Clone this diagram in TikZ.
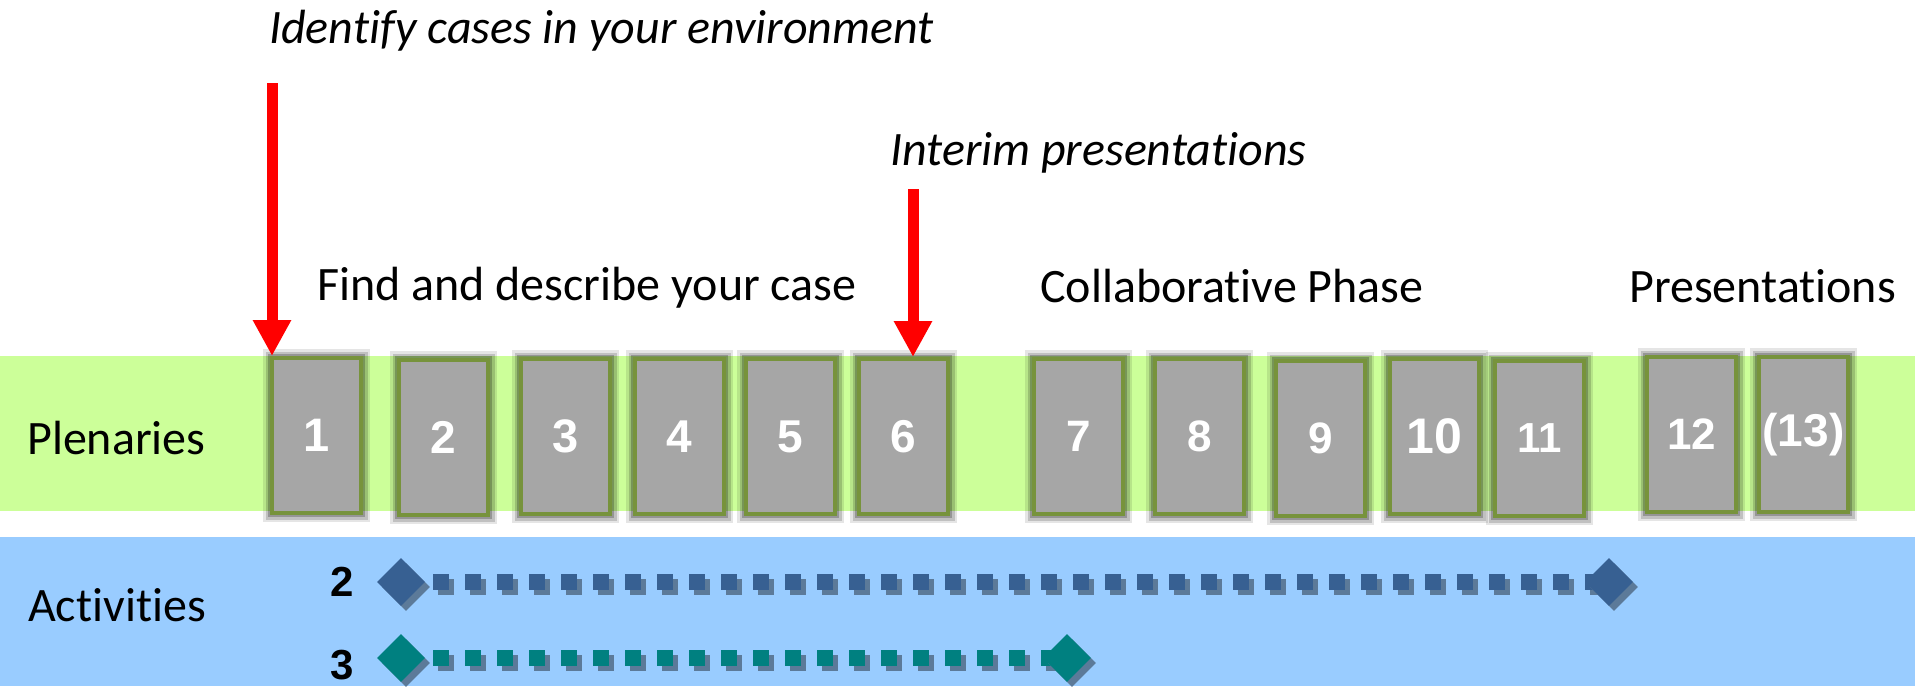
\documentclass[tikz,border=0pt]{standalone}
\usepackage{fontspec}
\setmainfont{Carlito}[Ligatures=NoCommon]
\newfontfamily\arialfont{Liberation Sans}
\usetikzlibrary{arrows.meta,shapes.geometric,calc}
\definecolor{bandgreen}{HTML}{CCFF99}
\definecolor{bandblue}{HTML}{99CCFF}
\definecolor{boxgray}{HTML}{A6A6A6}
\definecolor{boxborder}{HTML}{77933C}
\definecolor{actblue}{HTML}{376092}
\definecolor{actteal}{HTML}{008080}
\definecolor{actshadow}{HTML}{5C7A99}
\newcommand\numfs[1]{\arialfont\bfseries\fontsize{#1}{#1}\selectfont}
\pgfdeclarelayer{bg}
\pgfdeclarelayer{mid}
\pgfsetlayers{bg,mid,main}
\tikzset{
  lbl/.style={font=\fontsize{48}{58}\selectfont, inner sep=0, anchor=base west},
  ilbl/.style={font=\fontsize{48}{58}\selectfont\itshape, inner sep=0, anchor=base west},
  sess/.style={draw=boxborder, line width=4, fill=boxgray, minimum width=89,
    minimum height=155, inner sep=0, anchor=north west, text=white,
    preaction={draw=black, draw opacity=0.10, line width=18, rounded corners=6},
    preaction={draw=black, draw opacity=0.16, line width=13, rounded corners=4},
    preaction={draw=black, draw opacity=0.22, line width=8, rounded corners=2}},
  redarrow/.style={draw=red, line width=11, -{Triangle[width=36pt,length=36pt]}},
  actdiam/.style={diamond, minimum width=48, minimum height=48, inner sep=0},
  actline/.style={line width=16, dash pattern=on 16pt off 16pt, shorten <=8pt},
  actnum/.style={font=\numfs{42}, inner sep=0, text=black}
}
\begin{document}
\begin{tikzpicture}[x=1pt,y=-1pt]
\useasboundingbox (0,0) rectangle (1915,686);
\begin{pgfonlayer}{bg}
\fill[white] (0,0) rectangle (1915,686);
\fill[bandgreen] (0,356) rectangle (1915,511);
\fill[bandblue] (0,537) rectangle (1915,686);
\end{pgfonlayer}

% texts
\node[ilbl] (t1) at (269,43) {Identify cases in your environment};
\node[ilbl] (t2) at (890,165) {Interim presentations};
\node[lbl] (h1) at (317,300) {Find and describe your case};
\node[lbl] (h2) at (1040,302) {Collaborative Phase};
\node[lbl] (h3) at (1629,302) {Presentations};
\node[lbl] (pl) at (27,454) {Plenaries};
\node[lbl] (ac) at (28,621) {Activities};

% sessions
\node[sess, font=\numfs{47}] (b1) at (270,356) {1};
\node[sess, font=\numfs{46}] (b2) at (397,358) {2};
\node[sess, font=\numfs{47}] (b3) at (519,357) {3};
\node[sess, font=\numfs{46}] (b4) at (633,357) {4};
\node[sess, font=\numfs{46}] (b5) at (744,357) {5};
\node[sess, font=\numfs{46}] (b6) at (857,357) {6};
\node[sess, font=\numfs{44}] (b7) at (1032,357) {7};
\node[sess, font=\numfs{44}] (b8) at (1153,357) {8};
\node[sess, font=\numfs{44}] (b9) at (1274,359) {9};
\node[sess, font=\numfs{50}] (b10) at (1388,357) {10};
\node[sess, font=\numfs{42}] (b11) at (1493,359) {11};
\node[sess, font=\numfs{44}] (b12) at (1645,355) {12};
\node[sess, font=\numfs{46}] (b13) at (1757,355) {(13)};

% red arrows
\coordinate (a1s) at (272,83);
\coordinate (a2s) at (913,189);
\draw[redarrow] (a1s) -- (a1s |- b1.north);
\draw[redarrow] (a2s) -- (a2s |- b6.north);

% activities
\node[actnum] (n2) at (342,582) {2};
\node[actnum] (n3) at (342,665) {3};

\node[actdiam, fill=actshadow] (d2as) at (406,587) {};
\node[actdiam, fill=actblue] (d2a) at (401,582) {};
\node[actdiam, fill=actshadow] (d2bs) at (1614,587) {};
\node[actdiam, fill=actblue] (d2b) at (1609,582) {};
\node[actdiam, fill=actshadow] (d3as) at (406,663) {};
\node[actdiam, fill=actteal] (d3a) at (401,658) {};
\node[actdiam, fill=actshadow] (d3bs) at (1072,663) {};
\node[actdiam, fill=actteal] (d3b) at (1067,658) {};

\begin{pgfonlayer}{mid}
\draw[actline, draw=actshadow] (d2as.east) -- (d2bs.center);
\draw[actline, draw=actblue] (d2a.east) -- (d2b.center);
\draw[actline, draw=actshadow] (d3as.east) -- (d3bs.center);
\draw[actline, draw=actteal] (d3a.east) -- (d3b.center);
\end{pgfonlayer}
\end{tikzpicture}
\end{document}
